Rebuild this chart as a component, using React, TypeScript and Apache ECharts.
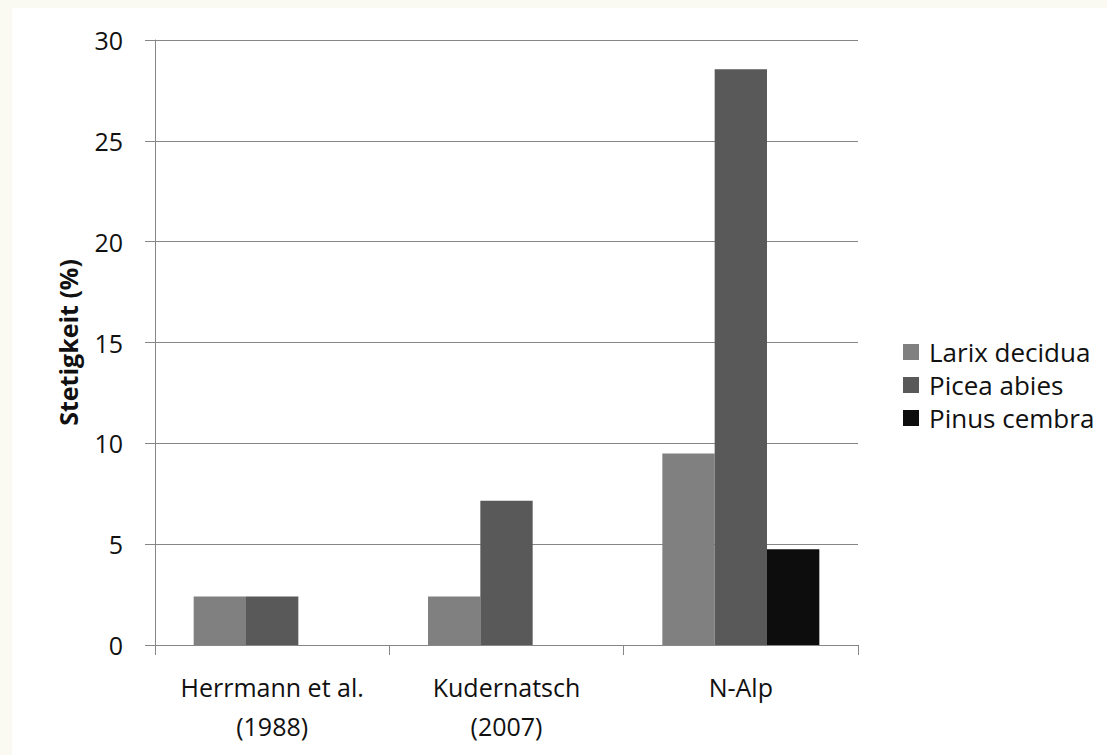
import React, { useEffect, useRef } from "react";
import * as echarts from "echarts";

const categories = ["Herrmann et al.\n(1988)", "Kudernatsch\n(2007)", "N-Alp"];
const seriesNames = ["Larix decidua", "Picea abies", "Pinus cembra"];
const larix = [2.4, 2.4, 9.5];
const picea = [2.4, 7.15, 28.55];
const pinus = [0, 0, 4.75];
const seriesColors = ["#808080", "#595959", "#0d0d0d"];
const yTicks = { min: 0, max: 30, interval: 5 };

const FONT = "'Open Sans', 'Noto Sans', sans-serif";
const TEXT = "#111111";
const LINE = "#868686";

export default function App() {
  const ref = useRef<HTMLDivElement>(null);
  useEffect(() => {
    document.body.style.margin = "0";
    if (!ref.current) return;
    const chart = echarts.init(ref.current, undefined, { renderer: "svg" });
    const values = [larix, picea, pinus];
    chart.setOption({
      animation: false,
      backgroundColor: "transparent",
      textStyle: { fontFamily: FONT },
      grid: { left: 155, right: 249, top: 40, bottom: 110, containLabel: false },
      legend: {
        orient: "vertical",
        left: 903,
        top: 339,
        padding: 0,
        itemWidth: 16,
        itemHeight: 16,
        itemGap: 7,
        icon: "rect",
        textStyle: { fontSize: 26, color: TEXT, fontFamily: FONT, lineHeight: 26, padding: [0, 0, 0, 5] },
        data: seriesNames,
      },
      xAxis: {
        type: "category",
        data: categories,
        axisLine: { show: true, lineStyle: { color: LINE, width: 1 } },
        axisTick: { show: true, alignWithLabel: false, length: 10, lineStyle: { color: LINE } },
        axisLabel: {
          color: TEXT,
          fontSize: 25,
          lineHeight: 39,
          margin: 22,
          fontFamily: FONT,
          interval: 0,
          hideOverlap: false,
        },
        splitLine: { show: false },
      },
      yAxis: {
        type: "value",
        min: yTicks.min,
        max: yTicks.max,
        interval: yTicks.interval,
        name: "Stetigkeit (%)",
        nameLocation: "middle",
        nameGap: 75,
        nameRotate: 90,
        nameTextStyle: { fontSize: 25, fontWeight: "bold", color: TEXT, fontFamily: FONT },
        axisLine: { show: true, lineStyle: { color: LINE, width: 1 } },
        axisTick: { show: true, inside: false, length: 10, lineStyle: { color: LINE } },
        axisLabel: { color: TEXT, fontSize: 25, margin: 32, fontFamily: FONT },
        splitLine: { show: true, lineStyle: { color: LINE, width: 1 } },
      },
      series: seriesNames.map((name, i) => ({
        name,
        type: "bar",
        data: values[i],
        barGap: "0%",
        barCategoryGap: "33%",
        itemStyle: { color: seriesColors[i] },
        emphasis: { disabled: true },
      })),
    });
    return () => chart.dispose();
  }, []);
  return (
    <div style={{ position: "relative", width: 1107, height: 755, background: "#fafaf3" }}>
      <div style={{ position: "absolute", left: 12, top: 8, right: 0, bottom: 0, background: "#ffffff" }} />
      <div ref={ref} style={{ position: "absolute", left: 0, top: 0, width: 1107, height: 755 }} />
    </div>
  );
}
